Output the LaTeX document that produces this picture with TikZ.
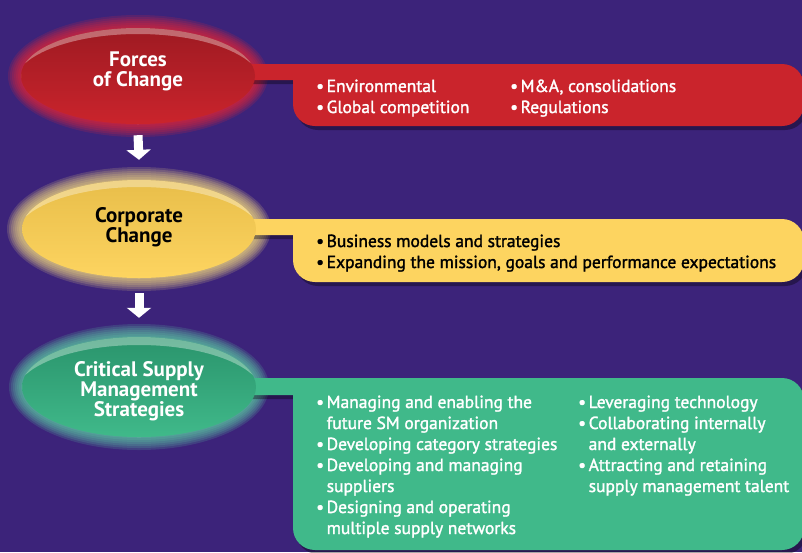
\documentclass[tikz,border=0pt]{standalone}
\usepackage{fontspec}
\setmainfont{PT Sans}
\newfontfamily\smbodyfont{PT Sans}[RawFeature={embolden=1.6}]
\usetikzlibrary{shapes.geometric,calc,arrows.meta}

\definecolor{smPurple}{RGB}{60,35,122}
\definecolor{smRed}{RGB}{202,36,44}
\definecolor{smRedDark}{RGB}{158,26,34}
\definecolor{smRedGlow}{RGB}{240,40,48}
\definecolor{smYellow}{RGB}{253,212,96}
\definecolor{smYellowDark}{RGB}{232,190,74}
\definecolor{smYellowGlow}{RGB}{255,230,130}
\definecolor{smGreen}{RGB}{64,185,138}
\definecolor{smGreenDark}{RGB}{42,148,108}
\definecolor{smGreenGlow}{RGB}{96,218,168}

\newcommand{\SMBul}{\makebox[10.5pt][l]{\textbullet}}
\newcommand{\SMInd}{\hspace*{10.5pt}}

% soft halo round an oval: centre, x radius, y radius, colour
\newcommand{\SMGlow}[4]{
  \foreach \g in {13,11,...,1}
    \fill[#4, opacity=0.16] #1 ellipse [x radius=#2+\g, y radius=#3+\g];
}

% tab from the oval plus the rounded panel: colour, top, tab bottom, panel bottom
\newcommand{\SMPanel}[4]{
  \fill[black, opacity=.35, shift={(3,4)}] (244,#2) rectangle (315,#3) (293,#2) rectangle (315,#2+30)
    [rounded corners=22] (293,#2) rectangle (804,#4);
  \fill[#1] (244,#2) rectangle (315,#3) (293,#2) rectangle (315,#2+30)
    [rounded corners=22] (293,#2) rectangle (804,#4);
}

\tikzset{
  smoval/.style={ellipse, inner sep=0pt, minimum width=234,
    path picture={
      \fill[white, opacity=.35, even odd rule]
        (path picture bounding box.north west) rectangle (path picture bounding box.south east)
        ($(path picture bounding box.center)+(0,8)$) ellipse [x radius=124, y radius=50];
    }},
  smtitle/.style={inner sep=0pt, align=center, font=\fontsize{21}{20}\selectfont\bfseries},
  smtext/.style={anchor=base west, inner sep=0pt, font=\fontsize{17.5}{21}\selectfont\smbodyfont},
  smarrow/.style={white, line width=9pt, -{Triangle[width=24pt,length=10pt]}}
}

\begin{document}
\begin{tikzpicture}[x=1pt,y=-1pt]
\fill[smPurple] (0,0) rectangle (802,552);
\useasboundingbox (0,0) rectangle (802,552);

\SMGlow{(138,76)}{117}{48}{smRedGlow}
\SMGlow{(139,229)}{119}{49}{smYellowGlow}
\SMGlow{(139,387)}{117}{50}{smGreenGlow}

\SMPanel{smRed}{64}{80}{126}
\SMPanel{smYellow}{219}{235}{282}
\SMPanel{smGreen}{378}{395}{550}

% the three ovals
\node[smoval, minimum height=96, top color=smRedDark, bottom color=smRed] (forces) at (138,76) {};
\node[smoval, minimum height=98, top color=smYellowDark, bottom color=smYellow] (corporate) at (139,229) {};
\node[smoval, minimum height=100, top color=smGreenDark, bottom color=smGreen] (critical) at (139,387) {};

\node[smtitle, text=white] (forces-t) at (138,71.5) {Forces\\of Change};
\node[smtitle, text=black] (corporate-t) at (139,227) {Corporate\\Change};
\node[smtitle, text=white] (critical-t) at (139,391) {Critical Supply\\Management\\Strategies};

\draw[smarrow] ($(forces.south)+(0,11)$) -- ($(corporate.north)+(0,-20)$);
\draw[smarrow] ($(corporate.south)+(0,15)$) -- ($(critical.north)+(0,-19)$);

% panel texts
\node[smtext, text=white] (forcesA) at (316,92) {\begin{tabular}[t]{@{}l@{}}
  \SMBul Environmental\\
  \SMBul Global competition
\end{tabular}};
\node[smtext, text=white] (forcesB) at (510,92) {\begin{tabular}[t]{@{}l@{}}
  \SMBul M\&A, consolidations\\
  \SMBul Regulations
\end{tabular}};

\node[smtext, text=black] (corporateA) at (316,247) {\begin{tabular}[t]{@{}l@{}}
  \SMBul Business models and strategies\\
  \SMBul Expanding the mission, goals and performance expectations
\end{tabular}};

\node[smtext, text=white] (criticalA) at (316,408) {\begin{tabular}[t]{@{}l@{}}
  \SMBul Managing and enabling the\\
  \SMInd future SM organization\\
  \SMBul Developing category strategies\\
  \SMBul Developing and managing\\
  \SMInd suppliers\\
  \SMBul Designing and operating\\
  \SMInd multiple supply networks
\end{tabular}};
\node[smtext, text=white] (criticalB) at (578,408) {\begin{tabular}[t]{@{}l@{}}
  \SMBul Leveraging technology\\
  \SMBul Collaborating internally\\
  \SMInd and externally\\
  \SMBul Attracting and retaining\\
  \SMInd supply management talent
\end{tabular}};
\end{tikzpicture}
\end{document}
